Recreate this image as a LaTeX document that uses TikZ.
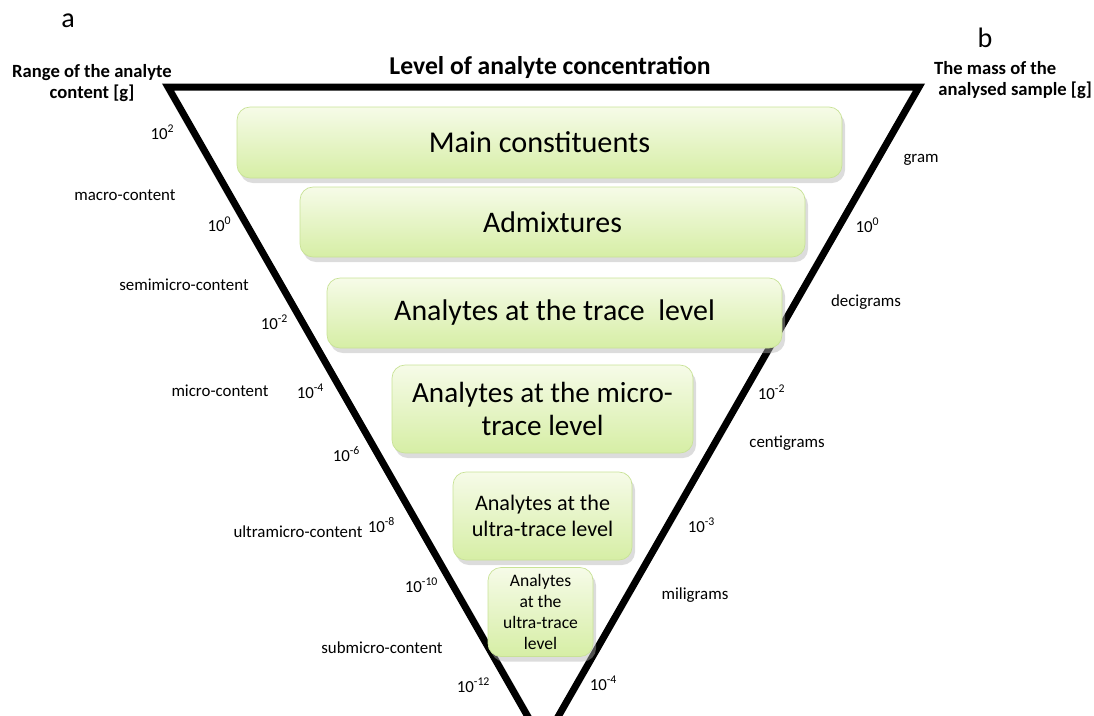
\documentclass[tikz,border=0pt]{standalone}
\usepackage{fontspec}
\setmainfont{Carlito}
\usetikzlibrary{shadows}
\definecolor{boxtop}{RGB}{246,251,232}
\definecolor{boxbottom}{RGB}{214,238,165}
\definecolor{boxedge}{RGB}{200,226,150}
\newcommand\Pow[1]{10\textsuperscript{#1}}

\begin{document}
\begin{tikzpicture}[x=0.1mm,y=-0.1mm,
  levelbox/.style={rounded corners=1.3mm,top color=boxtop,bottom color=boxbottom,
    draw=boxedge,line width=0.2pt,align=center,inner sep=0pt,
    drop shadow={shadow xshift=0.3mm,shadow yshift=-0.5mm,fill=black!30,opacity=0.45}},
  sidelabel/.style={font=\fontsize{4.8}{5.6}\selectfont,inner sep=0pt},
  headlabel/.style={font=\bfseries\fontsize{5.3}{6.2}\selectfont,align=center,inner sep=0pt},
  panel/.style={font=\fontsize{8}{9}\selectfont,inner sep=0pt}]
\useasboundingbox (0,0) rectangle (1094,715);
\clip (0,0) rectangle (1094,715);

% the inverted pyramid
\draw[line width=0.7mm,line join=miter] (168,87) -- (919,87) -- (543,743) -- cycle;

% levels of concentration
\node[levelbox,minimum width=60.5mm,minimum height=7.1mm,font=\fontsize{8.6}{10}\selectfont]
  (main) at (539.5,142.5) {Main constituents};
\node[levelbox,minimum width=50.5mm,minimum height=7mm,font=\fontsize{8.5}{10}\selectfont]
  (admix) at (552.5,222) {Admixtures};
\node[levelbox,minimum width=45.5mm,minimum height=7mm,font=\fontsize{8.5}{10}\selectfont]
  (trace) at (554.5,313) {Analytes at the trace~ level};
\node[levelbox,minimum width=30.1mm,minimum height=8.8mm,font=\fontsize{8.3}{9.6}\selectfont]
  (micro) at (542.5,409) {Analytes at the micro-\\trace level};
\node[levelbox,minimum width=17.9mm,minimum height=8.8mm,font=\fontsize{6.3}{7.4}\selectfont]
  (ultra) at (542.5,516) {Analytes at the\\ultra-trace level};
\node[levelbox,minimum width=10.5mm,minimum height=8.9mm,font=\fontsize{5}{5.9}\selectfont]
  (ultrasmall) at (540.5,612) {Analytes\\at the\\ultra-trace\\level};

% headings
\node[panel] (pa) at (68,21) {a};
\node[panel] (pb) at (985,38) {b};
\node[headlabel] (range) at (92,83) {Range of the analyte\\content [g]};
\node[headlabel,font=\bfseries\fontsize{7.3}{8.5}\selectfont] (level) at (550,67) {Level of analyte concentration};
\node[headlabel,align=left] (mass) at (1013,80) {The mass of the\\\ analysed sample [g]};

% left side: analyte content
\node[sidelabel] (l2) at (163,132) {\Pow{2}};
\node[sidelabel] (lmacro) at (125,195) {macro-content};
\node[sidelabel] (l0) at (220,224) {\Pow{0}};
\node[sidelabel] (lsemi) at (184,285) {semimicro-content};
\node[sidelabel] (lm2) at (275,322) {\Pow{-2}};
\node[sidelabel] (lmicro) at (220,391) {micro-content};
\node[sidelabel] (lm4) at (311,391) {\Pow{-4}};
\node[sidelabel] (lm6) at (347,454) {\Pow{-6}};
\node[sidelabel] (lultra) at (298,532) {ultramicro-content};
\node[sidelabel] (lm8) at (382,525) {\Pow{-8}};
\node[sidelabel] (lm10) at (422,585) {\Pow{-10}};
\node[sidelabel] (lsub) at (382,648) {submicro-content};
\node[sidelabel] (lm12) at (474,685) {\Pow{-12}};

% right side: mass of the sample
\node[sidelabel] (rgram) at (921,160) {gram};
\node[sidelabel] (r0) at (868,225) {\Pow{0}};
\node[sidelabel] (rdeci) at (866,302) {decigrams};
\node[sidelabel] (rm2) at (772,392) {\Pow{-2}};
\node[sidelabel] (rcenti) at (787,443) {centigrams};
\node[sidelabel] (rm3) at (702,525) {\Pow{-3}};
\node[sidelabel] (rmili) at (695,595) {miligrams};
\node[sidelabel] (rm4) at (604,683) {\Pow{-4}};
\end{tikzpicture}
\end{document}
